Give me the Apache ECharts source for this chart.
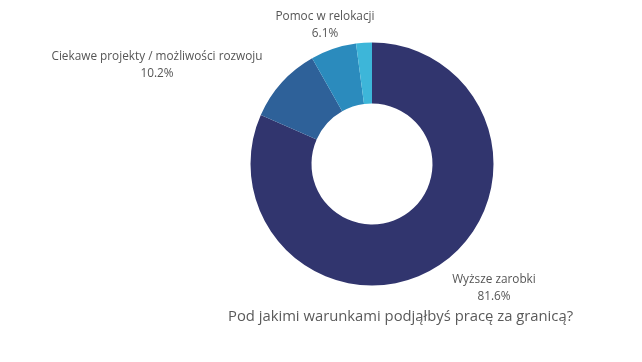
<!DOCTYPE html>
<html>
<head>
<meta charset="utf-8">
<script src="https://cdn.jsdelivr.net/npm/echarts@6/dist/echarts.min.js"></script>
<style>html,body{margin:0;padding:0;background:#fff}#c{width:642px;height:362px}</style>
</head>
<body>
<div id="c"></div>
<script>
const categories = ['Wyższe zarobki', 'Ciekawe projekty / możliwości rozwoju', 'Pomoc w relokacji', 'Inne'];
const values = [81.6, 10.2, 6.1, 2.1];
const showLabel = [true, true, true, false];
const colors = ['#31356e', '#2e6199', '#2b8bbd', '#3db6d9'];
const titleText = 'Pod jakimi warunkami podjąłbyś pracę za granicą?';

const labelPos = [[494, 288], [157, 65], [325, 25], [0, 0]];

const chart = echarts.init(document.getElementById('c'));
chart.setOption({
  animation: false,
  title: {
    text: titleText,
    left: 228,
    top: 309,
    padding: 0,
    textStyle: { fontFamily: 'Open Sans', fontSize: 14.8, fontWeight: 'normal', color: '#5a5a5a' }
  },
  series: [{
    type: 'pie',
    center: [372, 164],
    radius: [60.5, 121.5],
    startAngle: 90,
    clockwise: true,
    data: categories.map((n, i) => ({
      name: n,
      value: values[i],
      itemStyle: { color: colors[i] },
      label: { show: showLabel[i] }
    })),
    label: {
      position: 'outside',
      formatter: '{b}\n{c}%',
      fontFamily: 'Open Sans',
      fontSize: 11.8,
      lineHeight: 17,
      color: '#555',
      align: 'center'
    },
    labelLine: { show: false },
    labelLayout: function (p) {
      const pos = labelPos[p.dataIndex];
      return { x: pos[0], y: pos[1], align: 'center', verticalAlign: 'middle' };
    },
    emphasis: { disabled: true }
  }]
});
</script>
</body>
</html>
